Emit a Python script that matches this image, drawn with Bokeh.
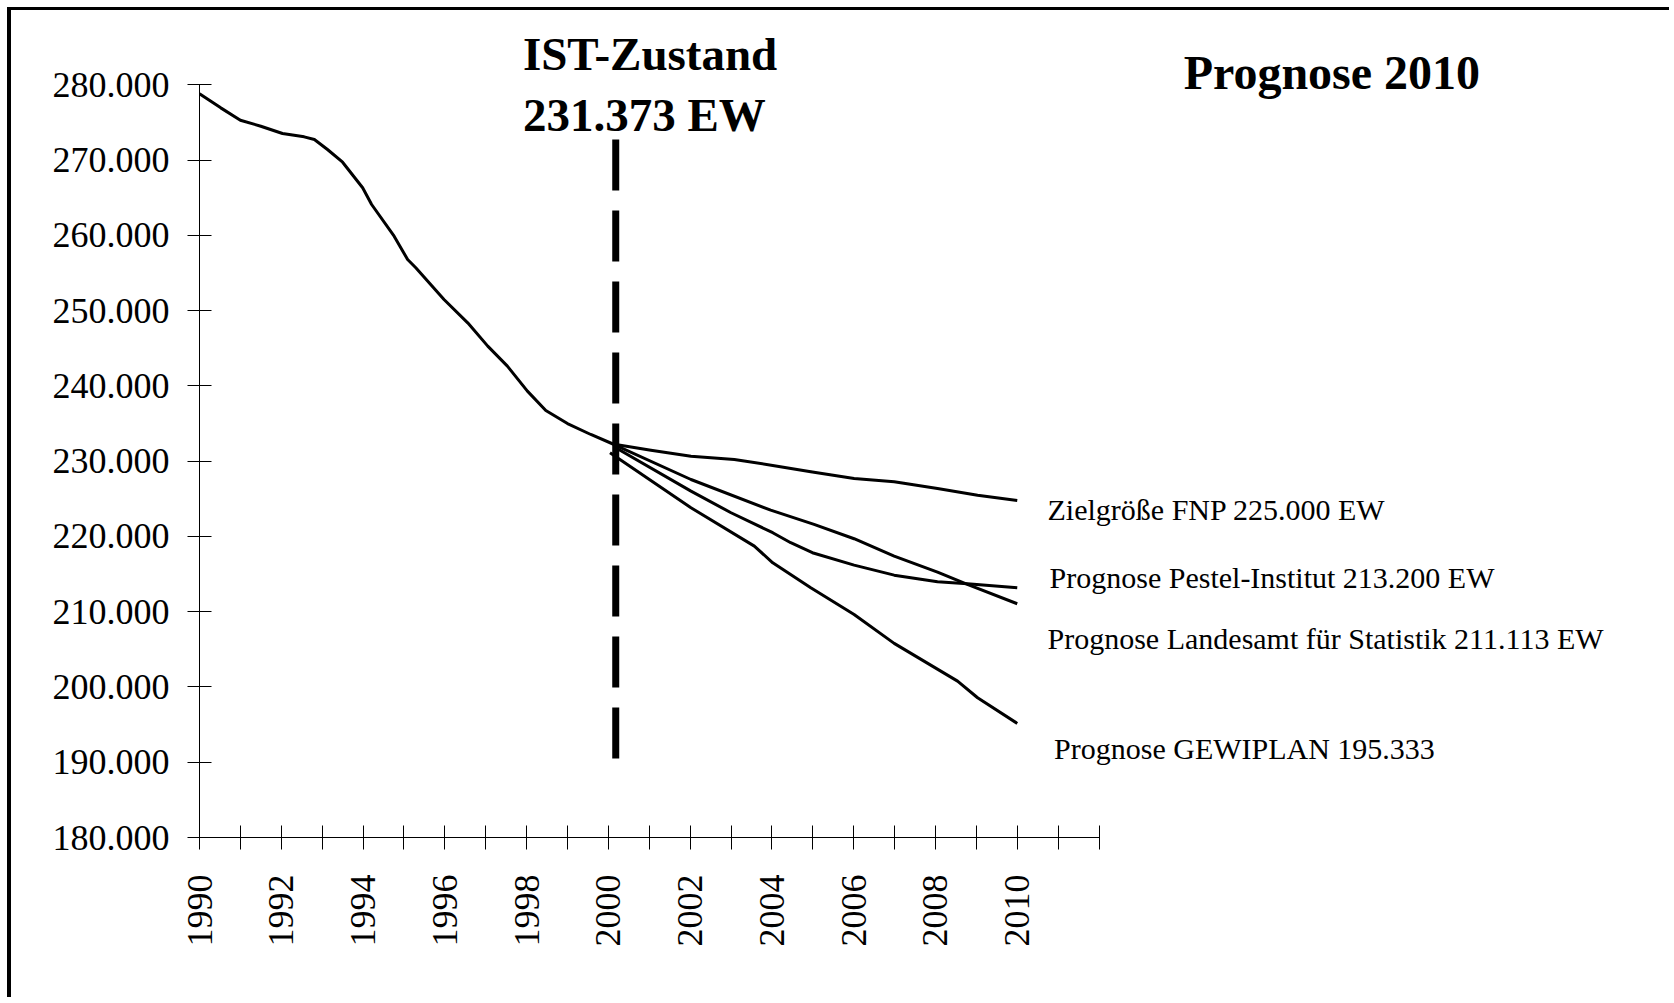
import math
from bokeh.plotting import figure
from bokeh.models import Range1d, FixedTicker, Label
from bokeh.embed import file_html
from bokeh.resources import INLINE

# ---------------- data ----------------
hist_years = [1990.0, 1990.52, 1991.0, 1991.5, 1992.03, 1992.56, 1992.81, 1993.13, 1993.5,
              1993.99, 1994.21, 1994.76, 1995.09, 1995.29, 1995.98, 1996.56, 1997.05,
              1997.53, 1998.02, 1998.47, 1999.0, 1999.57, 2000.14]
hist_vals = [278820, 276950, 275310, 274510, 273540, 273100, 272750, 271420, 269730,
             266330, 264110, 259900, 256800, 255700, 251490, 248390, 245290,
             242630, 239310, 236740, 235000, 233550, 232220]

fnp_years = [2000.18, 2001.04, 2002.02, 2003.08, 2004.02, 2004.95, 2006.01, 2006.99, 2008.05, 2009.03, 2010.0]
fnp_vals = [232220, 231470, 230670, 230230, 229440, 228600, 227710, 227270, 226380, 225490, 224780]

pestel_years = [2000.18, 2002.02, 2003.0, 2004.02, 2004.46, 2004.99, 2006.01, 2006.99, 2008.05, 2008.78, 2010.0]
pestel_vals = [231790, 226020, 223150, 220500, 219170, 217840, 216190, 214860, 213980, 213720, 213190]

landes_years = [2000.18, 2002.02, 2003.97, 2005.03, 2006.01, 2006.99, 2008.05, 2008.78, 2010.0]
landes_vals = [232090, 227570, 223500, 221600, 219700, 217390, 215260, 213630, 211060]

gewi_years = [2000.04, 2002.02, 2003.57, 2004.02, 2004.95, 2006.01, 2006.99, 2008.54, 2009.03, 2010.0]
gewi_vals = [231120, 223810, 218720, 216500, 213190, 209640, 205790, 200780, 198570, 195160]

ist_x = [2000.18, 2000.18]
ist_y = [272750, 190400]

y_ticks = [180000, 190000, 200000, 210000, 220000, 230000, 240000, 250000, 260000, 270000, 280000]
y_tick_labels = ["180.000", "190.000", "200.000", "210.000", "220.000", "230.000",
                 "240.000", "250.000", "260.000", "270.000", "280.000"]
x_ticks = list(range(1990, 2013))
x_tick_labels = ["1990", "", "1992", "", "1994", "", "1996", "", "1998", "", "2000", "",
                 "2002", "", "2004", "", "2006", "", "2008", "", "2010", "", ""]

series_labels = ["Zielgröße FNP  225.000 EW",
                 "Prognose Pestel-Institut 213.200 EW",
                 "Prognose Landesamt für Statistik 211.113 EW",
                 "Prognose GEWIPLAN 195.333"]
series_label_x = [2010.74, 2010.79, 2010.74, 2010.90]
series_label_y = [223560, 214580, 206470, 191860]

FONT = "Liberation Serif"

p = figure(width=1662, height=990, output_backend="svg", toolbar_location=None,
           x_range=Range1d(1990, 2026.05), y_range=Range1d(180000, 289888),
           min_border_left=188, min_border_right=0, min_border_top=0, min_border_bottom=163)
p.styles = {"border-top": "3px solid black", "border-left": "4px solid black",
            "margin-left": "7px", "margin-top": "7px"}
p.outline_line_color = None
p.xgrid.visible = False
p.ygrid.visible = False
p.background_fill_color = "white"
p.border_fill_color = "white"

# axes
p.xaxis.bounds = (1990, 2012)
p.yaxis.bounds = (180000, 280000)
p.xaxis.ticker = FixedTicker(ticks=x_ticks)
p.yaxis.ticker = FixedTicker(ticks=y_ticks)
p.xaxis.major_label_overrides = {t: l for t, l in zip(x_ticks, x_tick_labels)}
p.yaxis.major_label_overrides = {t: l for t, l in zip(y_ticks, y_tick_labels)}
for ax in (p.xaxis, p.yaxis):
    ax.axis_line_color = "black"
    ax.axis_line_width = 1
    ax.major_tick_line_color = "black"
    ax.major_tick_line_width = 1
    ax.major_tick_in = 12
    ax.major_tick_out = 12
    ax.minor_tick_line_color = None
    ax.major_label_text_font = FONT
    ax.major_label_text_font_size = "36px"
    ax.major_label_text_color = "black"
p.yaxis.major_label_standoff = 18
p.xaxis.major_label_standoff = 25
p.xaxis.major_label_orientation = math.pi / 2

# lines
for xs, ys in [(hist_years, hist_vals), (fnp_years, fnp_vals), (pestel_years, pestel_vals),
               (landes_years, landes_vals), (gewi_years, gewi_vals)]:
    p.line(xs, ys, line_color="black", line_width=3, line_join="round")

p.line(ist_x, ist_y, line_color="black", line_width=7, line_dash="51 20", line_cap="butt")

# texts
p.add_layout(Label(x=1997.91, y=284150, text="IST-Zustand", text_font=FONT, text_color="black",
                   text_font_size="47px", text_font_style="bold", text_baseline="alphabetic"))
p.add_layout(Label(x=1997.91, y=276050, text="231.373 EW", text_font=FONT, text_color="black",
                   text_font_size="47px", text_font_style="bold", text_baseline="alphabetic"))
p.add_layout(Label(x=2014.07, y=281640, text="Prognose 2010", text_font=FONT, text_color="black",
                   text_font_size="48px", text_font_style="bold", text_baseline="alphabetic"))
for t, lx, ly in zip(series_labels, series_label_x, series_label_y):
    p.add_layout(Label(x=lx, y=ly, text=t, text_font=FONT, text_font_size="30px",
                       text_color="black", text_baseline="alphabetic"))

open("out.html", "w").write(file_html(p, INLINE))
